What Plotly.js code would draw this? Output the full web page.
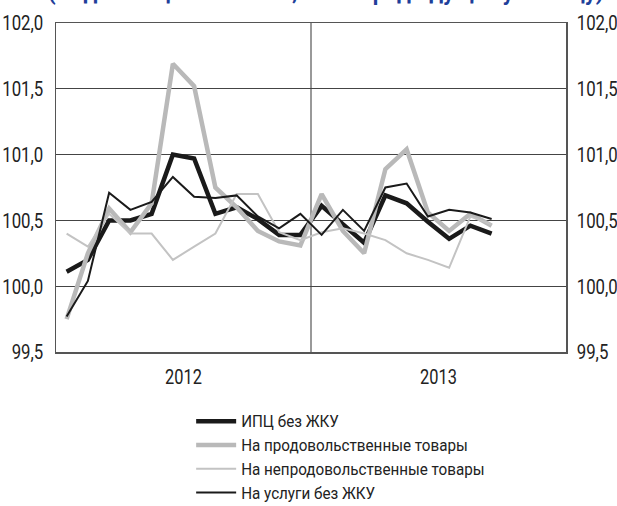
<!DOCTYPE html>
<html>
<head>
<meta charset="utf-8">
<script src="https://cdn.plot.ly/plotly-3.0.1.min.js"></script>
<style>
html,body{margin:0;padding:0;background:#fff;}
#chart{width:617px;height:506px;}
</style>
</head>
<body>
<div id="chart"></div>
<script>
// Months: Jan 2012 .. Sep 2013
const months = ['янв 2012','фев 2012','мар 2012','апр 2012','май 2012','июн 2012','июл 2012','авг 2012','сен 2012','окт 2012','ноя 2012','дек 2012',
                'янв 2013','фев 2013','мар 2013','апр 2013','май 2013','июн 2013','июл 2013','авг 2013','сен 2013'];
const years = ['2012', '2013'];
const monthsPerYear = 12;

const cpi      = [100.11,100.20,100.50,100.50,100.55,101.00,100.97,100.55,100.60,100.51,100.39,100.39,
                  100.61,100.47,100.33,100.69,100.63,100.49,100.36,100.46,100.40];
const food     = [99.75,100.25,100.59,100.41,100.63,101.69,101.52,100.75,100.60,100.42,100.34,100.31,
                  100.70,100.42,100.25,100.89,101.04,100.56,100.42,100.55,100.46];
const nonfood  = [100.40,100.30,100.55,100.40,100.40,100.20,100.30,100.40,100.70,100.70,100.41,100.35,
                  100.41,100.44,100.40,100.35,100.25,100.20,100.14,100.53,100.47];
const services = [99.77,100.04,100.71,100.58,100.64,100.83,100.68,100.67,100.69,100.53,100.44,100.55,
                  100.39,100.58,100.42,100.75,100.78,100.53,100.58,100.56,100.51];

const names = ['ИПЦ без ЖКУ','На продовольственные товары','На непродовольственные товары','На услуги без ЖКУ'];

const idx = months.map((m, i) => i);
const FONT = 'Roboto, "Liberation Sans", sans-serif';

const traces = [
  {x: idx, y: cpi, name: names[0], mode: 'lines', line: {color: '#1a1a1a', width: 4.5}},
  {x: idx, y: food, name: names[1], mode: 'lines', line: {color: '#b9b9b9', width: 4.5}},
  {x: idx, y: nonfood, name: names[2], mode: 'lines', line: {color: '#c3c3c3', width: 2}},
  {x: idx, y: services, name: names[3], mode: 'lines', line: {color: '#1a1a1a', width: 2}},
  {x: [], y: [], yaxis: 'y2', showlegend: false, hoverinfo: 'skip'}
];

const totalSlots = monthsPerYear * years.length;
const yearCenters = years.map((y, i) => i * monthsPerYear + (monthsPerYear - 1) / 2);

const layout = {
  width: 617, height: 506,
  margin: {l: 56, r: 51, t: 22.7, b: 154.3, autoexpand: false},
  paper_bgcolor: '#fff', plot_bgcolor: '#fff',
  separators: ', ',
  font: {family: FONT, size: 18, color: '#222'},
  showlegend: true,
  xaxis: {
    range: [-0.5, totalSlots - 0.5],
    tickvals: yearCenters, ticktext: years,
    showgrid: false, zeroline: false,
    ticks: '', ticklabelstandoff: 5, automargin: false,
    showline: true, linecolor: '#555', linewidth: 1.5, mirror: true,
    tickfont: {family: FONT, size: 21, color: '#222'}
  },
  yaxis: {
    range: [99.5, 102.0], dtick: 0.5, tick0: 99.5, tickformat: '.1f',
    showgrid: true, gridcolor: '#444', gridwidth: 1, zeroline: false,
    ticks: '', ticklabelstandoff: 7, automargin: false,
    showline: true, linecolor: '#555', linewidth: 1.5,
    tickfont: {family: FONT, size: 21, color: '#222'}
  },
  yaxis2: {
    overlaying: 'y', side: 'right',
    range: [99.5, 102.0], dtick: 0.5, tick0: 99.5, tickformat: '.1f',
    showgrid: false, zeroline: false,
    ticks: '', ticklabelstandoff: 5, automargin: false,
    showline: true, linecolor: '#555', linewidth: 1.5,
    tickfont: {family: FONT, size: 21, color: '#222'}
  },
  shapes: [
    {type: 'line', xref: 'x', yref: 'paper', x0: monthsPerYear - 0.5, x1: monthsPerYear - 0.5, y0: 0, y1: 1,
     line: {color: '#777', width: 1.5}, layer: 'below'}
  ],
  legend: {
    x: 0.265, xanchor: 'left', y: -0.159, yanchor: 'top',
    orientation: 'v', traceorder: 'normal',
    font: {family: FONT, size: 16, color: '#222'},
    bgcolor: 'rgba(0,0,0,0)', itemwidth: 40, tracegroupgap: 0
  },
  annotations: [
    {xref: 'paper', yref: 'paper', x: -0.02, xanchor: 'left', y: 1.049, yanchor: 'bottom',
     text: '(Индексы цен в России, в % к предыдущему месяцу)', showarrow: false,
     font: {family: FONT, size: 22, color: '#1f3f9a', weight: 'bold'}}
  ]
};

// Condense label glyphs to mimic the narrow typeface of the original
function condense(selector, factor) {
  document.querySelectorAll(selector).forEach(t => {
    if (t.getAttribute('textLength')) return;
    const w = t.getComputedTextLength();
    if (w > 0) {
      t.setAttribute('textLength', (w * factor).toFixed(2));
      t.setAttribute('lengthAdjust', 'spacingAndGlyphs');
    }
  });
}
function condenseAll() {
  condense('#chart g.ytick text, #chart g.y2tick text', 0.8);
  condense('#chart g.xtick text', 0.78);
  condense('#chart g.legend text.legendtext', 0.95);
}

Plotly.newPlot('chart', traces, layout, {staticPlot: true, displayModeBar: false}).then(condenseAll);
condenseAll();
</script>
</body>
</html>
